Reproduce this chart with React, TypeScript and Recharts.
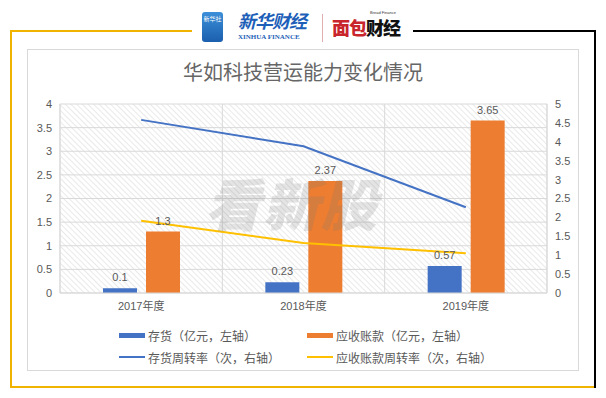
import React from 'react';
import { ComposedChart, Bar, Line, XAxis, YAxis, CartesianGrid, LabelList } from 'recharts';

const categories = ['2017年度', '2018年度', '2019年度'];
const inventory = [0.1, 0.23, 0.57];
const receivables = [1.3, 2.37, 3.65];
const inventoryTurnover = [4.58, 3.88, 2.27];
const receivableTurnover = [1.91, 1.32, 1.05];
const leftTicks = [0, 0.5, 1, 1.5, 2, 2.5, 3, 3.5, 4];
const rightTicks = [0, 0.5, 1, 1.5, 2, 2.5, 3, 3.5, 4, 4.5, 5];

const seriesNames = ['存货（亿元，左轴）', '应收账款（亿元，左轴）', '存货周转率（次，右轴）', '应收账款周转率（次，右轴）'];
const seriesColors = ['#4472C4', '#ED7D31', '#4472C4', '#FFC000'];

const data = categories.map((c, i) => ({
  name: c,
  inventory: inventory[i],
  receivables: receivables[i],
  invTurn: inventoryTurnover[i],
  recTurn: receivableTurnover[i],
}));

const FONT = '"Liberation Sans", "Noto Sans CJK SC", sans-serif';
const CJK = '"Noto Sans CJK SC", sans-serif';
const textGray = '#595959';
const yellow = '#F0B400';

const tickStyle = { fill: textGray, fontSize: 11, fontFamily: FONT };

function LegendBox() {
  // 2x2 legend like the excel one
  const cols = [119, 307];
  const rows = [335, 357];
  return (
    <>
      {seriesNames.map((name, i) => {
        const left = cols[i % 2];
        const top = rows[Math.floor(i / 2)];
        const isBar = i < 2;
        return (
          <div key={name} style={{ position: 'absolute', left, top: top - 9, height: 18, display: 'flex', alignItems: 'center' }}>
            <div style={{ width: 26, height: isBar ? 5 : 2, background: seriesColors[i], marginRight: 3 }} />
            <span style={{ fontFamily: CJK, fontSize: 12, color: textGray, whiteSpace: 'nowrap' }}>{name}</span>
          </div>
        );
      })}
    </>
  );
}

export default function App() {
  return (
    <div style={{ position: 'absolute', left: 0, top: 0, width: 606, height: 398, background: '#fff', overflow: 'hidden' }}>
      {/* outer frame */}
      <div style={{ position: 'absolute', left: 10, top: 30, width: 182, height: 2, background: yellow }} />
      <div style={{ position: 'absolute', left: 10, top: 30, width: 2, height: 358, background: yellow }} />
      <div style={{ position: 'absolute', left: 10, top: 386, width: 586, height: 2, background: yellow }} />
      <div style={{ position: 'absolute', left: 413, top: 30, width: 183, height: 2, background: '#000' }} />
      <div style={{ position: 'absolute', left: 594, top: 30, width: 2, height: 358, background: '#000' }} />
      {/* inner box */}
      <div style={{ position: 'absolute', left: 27, top: 49, width: 552, height: 322, border: '1px solid #d9d9d9', boxSizing: 'border-box' }} />

      {/* header logos */}
      <div style={{ position: 'absolute', left: 202, top: 12, width: 21, height: 30, borderRadius: 3, background: 'linear-gradient(#3b8fd8, #1b5fae)', color: '#fff', fontFamily: CJK, fontSize: 6, textAlign: 'center', lineHeight: '14px', overflow: 'hidden' }}>
        新华社
      </div>
      <div style={{ position: 'absolute', left: 238, top: 9, height: 22, fontFamily: CJK, fontSize: 18, fontWeight: 700, fontStyle: 'italic', color: '#1d5fb8', letterSpacing: -1, lineHeight: '22px' }}>新华财经</div>
      <div style={{ position: 'absolute', left: 238, top: 33, height: 9, fontFamily: '"Liberation Serif", serif', fontSize: 7, fontWeight: 700, color: '#1d5fb8', lineHeight: '9px' }}>XINHUA FINANCE</div>
      <div style={{ position: 'absolute', left: 322, top: 14, width: 1, height: 28, background: '#e0b0b0' }} />
      <div style={{ position: 'absolute', left: 370, top: 10, height: 5, fontFamily: FONT, fontSize: 4, color: '#333', lineHeight: '5px' }}>Bread Finance</div>
      <div style={{ position: 'absolute', left: 332, top: 16, height: 22, fontFamily: CJK, fontSize: 18, fontWeight: 900, letterSpacing: -1, lineHeight: '22px' }}>
        <span style={{ color: '#c9252c' }}>面包</span>
        <span style={{ color: '#111' }}>财经</span>
      </div>

      {/* title */}
      <div style={{ position: 'absolute', left: 0, width: 606, top: 59, textAlign: 'center', fontFamily: CJK, fontSize: 20, color: '#666', lineHeight: '26px' }}>
        华如科技营运能力变化情况
      </div>

      <div style={{ position: 'absolute', left: 0, top: 0 }}>
        <ComposedChart
          width={606}
          height={398}
          data={data}
          margin={{ top: 104, right: 24, bottom: 75, left: 25 }}
          barGap={9}
        >
          <defs>
            <pattern id="hatch" width="4" height="4" patternUnits="userSpaceOnUse" patternTransform="rotate(-45)">
              <line x1="0" y1="0" x2="0" y2="4" stroke="#d4d4d4" strokeWidth="1" />
            </pattern>
          </defs>
          <CartesianGrid
            yAxisId="left"
            fill="url(#hatch)"
            fillOpacity={1}
            stroke="#d9d9d9"
            strokeWidth={1}
            verticalCoordinatesGenerator={({ offset }: any) =>
              categories.map((_, i) => offset.left + (i * offset.width) / categories.length).concat(offset.left + offset.width)
            }
          />
          <XAxis
            dataKey="name"
            tickLine={false}
            axisLine={{ stroke: '#d9d9d9' }}
            tick={tickStyle}
            tickMargin={3}
            height={30}
          />
          <YAxis
            yAxisId="left"
            domain={[0, 4]}
            ticks={leftTicks}
            tickLine={false}
            axisLine={{ stroke: '#d9d9d9' }}
            tick={tickStyle}
            tickMargin={2}
            width={35}
            interval={0}
          />
          <YAxis
            yAxisId="right"
            orientation="right"
            domain={[0, 5]}
            ticks={rightTicks}
            tickLine={false}
            axisLine={{ stroke: '#d9d9d9' }}
            tick={tickStyle}
            width={35}
            interval={0}
          />
          <Bar yAxisId="left" dataKey="inventory" name={seriesNames[0]} fill={seriesColors[0]} barSize={34} isAnimationActive={false}>
            <LabelList dataKey="inventory" position="top" offset={7} fill={textGray} fontSize={11} fontFamily={FONT} />
          </Bar>
          <Bar yAxisId="left" dataKey="receivables" name={seriesNames[1]} fill={seriesColors[1]} barSize={34} isAnimationActive={false}>
            <LabelList dataKey="receivables" position="top" offset={7} fill={textGray} fontSize={11} fontFamily={FONT} />
          </Bar>
          <Line yAxisId="right" type="linear" dataKey="invTurn" name={seriesNames[2]} stroke={seriesColors[2]} strokeWidth={2} dot={false} isAnimationActive={false} />
          <Line yAxisId="right" type="linear" dataKey="recTurn" name={seriesNames[3]} stroke={seriesColors[3]} strokeWidth={2} dot={false} isAnimationActive={false} />
        </ComposedChart>
      </div>

      {/* watermark */}
      <div style={{ position: 'absolute', left: 205, top: 174, fontFamily: CJK, fontSize: 56, fontWeight: 900, fontStyle: 'italic', color: 'rgba(120,120,120,0.2)', letterSpacing: 2, lineHeight: '56px', pointerEvents: 'none' }}>
        看新股
      </div>

      <LegendBox />
    </div>
  );
}
